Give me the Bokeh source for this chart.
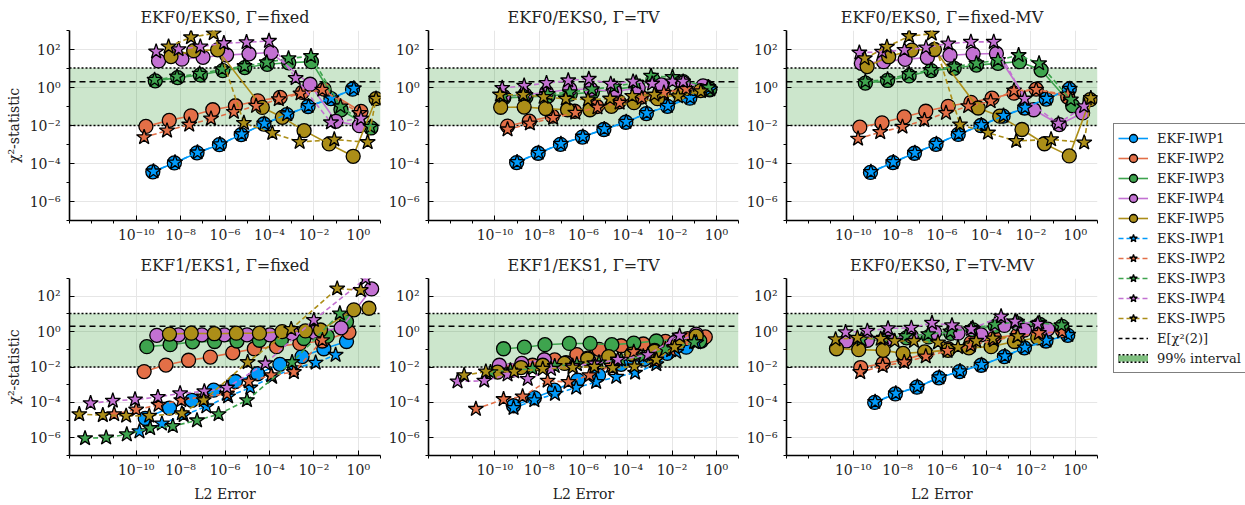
from bokeh.plotting import figure
from bokeh.models import Range1d, FixedTicker, Span, BoxAnnotation, Legend, LegendItem
from bokeh.layouts import row, column
from bokeh.embed import file_html
from bokeh.resources import INLINE

# ---------------- data (log10 of L2 error "LX", log10 of chi2-statistic "LY") -------------
COLORS = ["#009AFA", "#E36F47", "#3EA44E", "#C371D2", "#AC8E18"]
EKF_LABELS = ["EKF-IWP1", "EKF-IWP2", "EKF-IWP3", "EKF-IWP4", "EKF-IWP5"]
EKS_LABELS = ["EKS-IWP1", "EKS-IWP2", "EKS-IWP3", "EKS-IWP4", "EKS-IWP5"]
TITLES = ["EKF0/EKS0, Γ=fixed", "EKF0/EKS0, Γ=TV", "EKF0/EKS0, Γ=fixed-MV",
          "EKF1/EKS1, Γ=fixed", "EKF1/EKS1, Γ=TV", "EKF0/EKS0, Γ=TV-MV"]
CHI2_MEAN = 2.0
CHI2_LO = 0.01
CHI2_HI = 10.6
X_MAJOR = [-10, -8, -6, -4, -2, 0]
X_MINOR = [-13, -12, -11, -9, -7, -5, -3, -1, 1]
Y_MAJOR = [-6, -4, -2, 0, 2]
Y_MINOR = [-7, -5, -3, -1, 1, 3]

# Panel A: EKF0/EKS0, fixed
A_EKF1_LX = [-9.25, -8.28, -7.26, -6.25, -5.27, -4.25, -3.22, -2.26, -1.23, -0.26]
A_EKF1_LY = [-4.44, -3.97, -3.44, -3.01, -2.48, -1.92, -1.43, -1.00, -0.59, -0.09]
A_EKS1_LX = [-9.22, -8.25, -7.24, -6.23, -5.25, -4.23, -3.20, -2.24, -1.21, -0.20]
A_EKS1_LY = [-4.42, -3.95, -3.42, -2.99, -2.46, -1.90, -1.41, -0.98, -0.57, -0.05]
A_EKF2_LX = [-9.56, -8.51, -7.53, -6.55, -5.53, -4.52, -3.52, -2.52, -1.54, 0.12]
A_EKF2_LY = [-2.05, -1.73, -1.49, -1.17, -0.96, -0.70, -0.52, -0.26, -0.09, -1.26]
A_EKS2_LX = [-9.64, -8.61, -7.61, -6.63, -5.60, -4.60, -3.58, -2.60, -1.62, 0.05]
A_EKS2_LY = [-2.62, -2.27, -1.96, -1.64, -1.29, -0.97, -0.62, -0.32, -0.12, -1.35]
A_EKF3_LX = [-9.14, -8.13, -7.11, -6.10, -5.11, -4.10, -3.13, -2.11, -0.78, 0.57]
A_EKF3_LY = [0.35, 0.52, 0.66, 0.89, 1.05, 1.22, 1.30, 1.36, -1.17, -2.13]
A_EKS3_LX = [-9.17, -8.16, -7.14, -6.13, -5.12, -4.12, -3.14, -2.13, -0.80, 0.55]
A_EKS3_LY = [0.40, 0.57, 0.72, 0.96, 1.12, 1.32, 1.53, 1.65, -1.00, -2.07]
A_EKF4_LX = [-8.99, -7.94, -6.99, -5.93, -4.92, -3.92, -2.17, -1.01, 0.05]
A_EKF4_LY = [1.40, 1.49, 1.59, 1.71, 1.77, 1.84, 0.17, -1.78, -2.01]
A_EKS4_LX = [-9.10, -8.09, -7.11, -6.05, -5.03, -4.02, -2.82, -1.23, 0.12]
A_EKS4_LY = [1.89, 2.01, 2.15, 2.33, 2.38, 2.45, 0.49, -1.84, -1.64]
A_EKF5_LX = [-8.43, -7.41, -6.33, -4.32, -3.42, -2.44, -1.31, -0.23, 0.80]
A_EKF5_LY = [1.63, 1.94, 1.98, -1.05, -1.57, -2.27, -2.97, -3.62, -0.59]
A_EKS5_LX = [-8.54, -7.53, -6.51, -5.15, -3.87, -2.64, -1.08, 0.42, 0.80]
A_EKS5_LY = [2.15, 2.64, 2.85, -1.87, -2.40, -2.87, -2.74, -2.88, -0.59]

# Panel B: EKF0/EKS0, TV
B_EKF1_LX = [-9.02, -8.05, -7.04, -6.05, -5.08, -4.09, -3.16, -2.21, -1.20, -0.30]
B_EKF1_LY = [-3.95, -3.46, -2.99, -2.61, -2.21, -1.83, -1.37, -0.99, -0.56, -0.12]
B_EKS1_LX = [-9.00, -8.03, -7.02, -6.03, -5.06, -4.07, -3.14, -2.19, -1.18, -0.28]
B_EKS1_LY = [-3.93, -3.44, -2.97, -2.59, -2.19, -1.81, -1.35, -0.97, -0.54, -0.10]
B_EKF2_LX = [-9.43, -8.45, -7.41, -6.40, -5.40, -4.40, -3.40, -2.40, -1.40, -0.40]
B_EKF2_LY = [-2.03, -1.77, -1.51, -1.25, -1.00, -0.75, -0.50, -0.25, -0.05, 0.00]
B_EKS2_LX = [-9.43, -8.42, -7.37, -6.37, -5.37, -4.37, -3.37, -2.37, -1.37, -0.37]
B_EKS2_LY = [-2.21, -1.90, -1.60, -1.33, -1.05, -0.80, -0.55, -0.28, -0.08, 0.02]
B_EKF3_LX = [-9.60, -8.60, -7.60, -6.60, -5.60, -4.60, -3.60, -2.86, -1.50, -0.30]
B_EKF3_LY = [-0.55, -0.50, -0.45, -0.35, -0.25, -0.10, 0.05, 0.40, 0.31, -0.09]
B_EKS3_LX = [-9.62, -8.62, -7.62, -6.62, -5.62, -4.62, -3.62, -2.95, -1.98, -0.35]
B_EKS3_LY = [-0.45, -0.40, -0.35, -0.25, -0.10, 0.05, 0.25, 0.61, 0.55, 0.00]
B_EKF4_LX = [-9.62, -8.65, -7.67, -6.62, -5.67, -4.59, -3.53, -2.48, -1.50, -0.60]
B_EKF4_LY = [-0.47, -0.38, -0.26, -0.09, -0.09, -0.21, -0.03, 0.14, 0.23, 0.09]
B_EKS4_LX = [-9.67, -8.68, -7.67, -6.69, -5.76, -4.77, -3.76, -2.90, -1.98, -1.50]
B_EKS4_LY = [-0.03, 0.09, 0.23, 0.37, 0.45, 0.19, 0.31, 0.20, 0.31, 0.31]
B_EKF5_LX = [-9.74, -8.68, -7.71, -6.72, -5.71, -4.74, -3.72, -2.66, -1.65, -0.71]
B_EKF5_LY = [-1.04, -1.03, -1.11, -1.17, -1.17, -0.99, -0.80, -0.59, -0.35, -0.16]
B_EKS5_LX = [-9.77, -8.72, -7.80, -6.80, -5.80, -4.80, -3.80, -2.80, -1.73, -0.70]
B_EKS5_LY = [-0.38, -0.38, -0.50, -0.59, -0.64, -0.59, -0.45, -0.38, -0.47, -0.20]

# Panel C: EKF0/EKS0, fixed-MV
C_EKF1_LX = [-9.22, -8.21, -7.24, -6.27, -5.27, -4.25, -3.25, -2.28, -1.31, -0.27]
C_EKF1_LY = [-4.47, -3.95, -3.46, -2.99, -2.47, -2.00, -1.51, -1.08, -0.61, -0.09]
C_EKS1_LX = [-9.20, -8.19, -7.22, -6.25, -5.25, -4.23, -3.23, -2.26, -1.29, -0.25]
C_EKS1_LY = [-4.45, -3.93, -3.44, -2.97, -2.45, -1.98, -1.49, -1.06, -0.59, -0.07]
C_EKF2_LX = [-9.70, -8.70, -7.70, -6.73, -5.72, -4.70, -3.75, -2.76, -1.76, -0.34]
C_EKF2_LY = [-2.09, -1.86, -1.55, -1.25, -0.99, -0.78, -0.56, -0.30, -0.09, -0.50]
C_EKS2_LX = [-9.78, -8.78, -7.78, -6.79, -5.82, -4.82, -3.81, -2.76, -1.76, -0.34]
C_EKS2_LY = [-2.70, -2.35, -2.07, -1.72, -1.34, -0.99, -0.73, -0.16, -0.12, -0.38]
C_EKF3_LX = [-9.45, -8.45, -7.48, -6.49, -5.45, -4.45, -3.48, -2.51, -1.54, -0.12]
C_EKF3_LY = [0.23, 0.37, 0.61, 0.89, 1.01, 1.18, 1.27, 1.36, 0.92, -0.96]
C_EKS3_LX = [-9.45, -8.45, -7.48, -6.49, -5.45, -4.45, -3.48, -2.55, -1.63, -0.20]
C_EKS3_LY = [0.31, 0.43, 0.71, 0.92, 1.10, 1.27, 1.44, 1.70, 1.27, -0.64]
C_EKF4_LX = [-9.63, -8.63, -7.66, -6.66, -5.64, -4.60, -3.55, -1.87, -0.72, 0.33]
C_EKF4_LY = [1.27, 1.36, 1.48, 1.58, 1.70, 1.76, 1.79, -1.17, -1.95, -1.34]
C_EKS4_LX = [-9.72, -8.70, -7.69, -6.72, -5.72, -4.70, -3.67, -2.28, -0.76, 0.40]
C_EKS4_LY = [1.83, 1.88, 1.97, 2.10, 2.31, 2.40, 2.40, -0.59, -1.90, -0.99]
C_EKF5_LX = [-9.37, -8.40, -7.36, -6.34, -4.37, -3.40, -2.40, -1.39, -0.27, 0.67]
C_EKF5_LY = [1.10, 1.62, 1.97, 2.00, -1.08, -1.51, -2.21, -2.96, -3.60, -0.64]
C_EKS5_LX = [-9.48, -8.48, -7.48, -6.46, -5.19, -3.93, -2.66, -1.09, 0.40, 0.70]
C_EKS5_LY = [1.53, 2.14, 2.70, 2.83, -1.95, -2.38, -2.82, -2.73, -2.90, -0.56]

# Panel D: EKF1/EKS1, fixed
D_EKF1_LX = [-9.59, -8.50, -7.49, -6.51, -5.53, -4.53, -3.53, -2.53, -1.55, -0.53]
D_EKF1_LY = [-4.90, -4.32, -3.88, -3.31, -2.82, -2.38, -1.85, -1.41, -0.97, -0.56]
D_EKS1_LX = [-9.85, -8.84, -7.86, -6.84, -5.86, -4.86, -3.88, -2.90, -1.92, -1.02]
D_EKS1_LY = [-5.64, -5.20, -4.72, -4.23, -3.67, -3.17, -2.56, -2.08, -1.76, -1.32]
D_EKF2_LX = [-9.64, -8.66, -7.64, -6.66, -5.65, -4.68, -3.68, -2.63, -1.62, -0.42]
D_EKF2_LY = [-2.26, -1.89, -1.62, -1.44, -1.20, -0.97, -0.85, -0.67, -0.53, -0.04]
D_EKS2_LX = [-10.99, -10.00, -8.99, -7.97, -6.96, -5.91, -4.93, -3.92, -2.90, -1.62]
D_EKS2_LY = [-4.67, -4.41, -4.14, -3.88, -3.67, -3.52, -2.82, -2.47, -2.29, -0.49]
D_EKF3_LX = [-9.52, -8.47, -7.46, -6.47, -5.46, -4.45, -3.46, -2.45, -1.40, -0.53]
D_EKF3_LY = [-0.85, -0.74, -0.58, -0.56, -0.53, -0.49, -0.46, -0.39, -0.26, 0.56]
D_EKS3_LX = [-12.30, -11.35, -10.42, -9.37, -8.35, -7.26, -6.29, -5.01, -2.98, -0.83]
D_EKS3_LY = [-6.03, -5.99, -5.81, -5.46, -5.34, -5.02, -4.67, -3.88, -1.73, 1.02]
D_EKF4_LX = [-9.07, -8.09, -7.04, -6.03, -5.01, -3.98, -2.98, -1.97, -0.77, 0.60]
D_EKF4_LY = [-0.21, -0.18, -0.18, -0.18, -0.18, -0.18, -0.09, -0.04, 0.21, 2.41]
D_EKS4_LX = [-12.05, -11.05, -10.05, -9.02, -8.02, -6.93, -5.91, -4.18, -2.00, 0.33]
D_EKS4_LY = [-4.05, -3.91, -3.84, -3.70, -3.49, -3.38, -3.17, -1.80, 0.65, 3.00]
D_EKF5_LX = [-8.50, -7.52, -6.48, -5.49, -4.45, -3.43, -2.38, -1.70, -0.20, 0.48]
D_EKF5_LY = [-0.14, -0.09, -0.12, -0.09, -0.09, 0.00, 0.04, 0.09, 1.23, 1.32]
D_EKS5_LX = [-12.56, -11.50, -10.45, -9.41, -7.94, -6.96, -4.98, -3.02, -0.95, 0.11]
D_EKS5_LY = [-4.67, -4.72, -4.76, -4.76, -4.62, -3.88, -1.73, 0.14, 2.43, 2.34]

# Panel E: EKF1/EKS1, TV
E_EKF1_LX = [-9.16, -8.22, -7.32, -6.26, -5.32, -4.30, -3.24, -2.22, -1.36, -0.68]
E_EKF1_LY = [-4.19, -3.74, -3.31, -2.74, -2.47, -1.85, -1.55, -1.23, -0.88, -0.53]
E_EKS1_LX = [-9.16, -8.22, -7.29, -6.33, -5.43, -4.52, -3.67, -2.71, -1.81, -0.91]
E_EKS1_LY = [-4.32, -3.88, -3.52, -3.17, -2.85, -2.56, -2.33, -1.85, -1.15, -0.62]
E_EKF2_LX = [-9.30, -8.30, -7.30, -6.30, -5.30, -4.30, -3.30, -2.30, -1.30, -0.50]
E_EKF2_LY = [-2.20, -1.90, -1.60, -1.30, -1.00, -0.80, -0.70, -0.55, -0.40, -0.30]
E_EKS2_LX = [-10.86, -9.61, -8.75, -7.62, -6.68, -5.73, -4.75, -3.73, -2.79, -2.04]
E_EKS2_LY = [-4.37, -3.82, -3.67, -2.78, -2.85, -2.47, -1.94, -1.15, -1.67, -1.06]
E_EKF3_LX = [-9.61, -8.67, -7.74, -6.64, -5.70, -4.72, -3.73, -2.71, -1.73, -0.75]
E_EKF3_LY = [-0.97, -0.88, -0.74, -0.67, -0.67, -0.74, -0.65, -0.53, -0.44, -0.53]
E_EKS3_LX = [-10.20, -9.30, -8.30, -7.30, -6.30, -5.30, -4.30, -3.30, -2.30, -1.00]
E_EKS3_LY = [-2.30, -2.20, -2.10, -1.95, -1.85, -1.75, -1.60, -1.40, -1.00, -0.60]
E_EKF4_LX = [-9.80, -8.79, -7.77, -6.79, -5.81, -4.75, -3.77, -2.79, -1.89, -0.91]
E_EKF4_LY = [-1.90, -1.80, -1.59, -1.76, -1.50, -1.59, -1.32, -1.06, -0.62, -0.14]
E_EKS4_LX = [-11.69, -10.48, -9.43, -8.52, -7.47, -6.49, -5.51, -4.45, -3.09, -1.66]
E_EKS4_LY = [-2.82, -2.78, -2.43, -2.68, -2.11, -1.94, -1.80, -1.59, -1.32, -0.23]
E_EKF5_LX = [-9.88, -8.82, -7.84, -6.86, -5.81, -4.86, -3.82, -2.79, -1.73, -0.91]
E_EKF5_LY = [-2.29, -2.03, -1.90, -1.80, -1.55, -1.41, -1.27, -1.11, -0.70, -0.26]
E_EKS5_LX = [-11.39, -10.41, -9.13, -7.84, -6.49, -5.51, -4.68, -3.70, -2.71, -1.89]
E_EKS5_LY = [-2.47, -2.26, -2.26, -2.11, -2.03, -1.99, -2.06, -1.97, -1.59, -0.88]

# Panel F: EKF0/EKS0, TV-MV
F_EKF1_LX = [-9.03, -8.10, -7.13, -6.14, -5.21, -4.24, -3.19, -2.29, -1.32, -0.34]
F_EKF1_LY = [-4.00, -3.52, -3.14, -2.61, -2.26, -1.90, -1.41, -0.92, -0.53, -0.21]
F_EKS1_LX = [-9.01, -8.08, -7.11, -6.12, -5.19, -4.22, -3.17, -2.27, -1.30, -0.32]
F_EKS1_LY = [-3.98, -3.50, -3.12, -2.59, -2.24, -1.88, -1.39, -0.90, -0.51, -0.19]
F_EKF2_LX = [-9.66, -8.65, -7.68, -6.71, -5.73, -4.69, -3.64, -2.59, -1.62, -0.57]
F_EKF2_LY = [-2.03, -1.80, -1.59, -1.23, -0.97, -0.62, -0.35, -0.18, -0.04, 0.04]
F_EKS2_LX = [-9.68, -8.67, -7.70, -6.73, -5.75, -4.71, -3.66, -2.61, -1.64, -0.59]
F_EKS2_LY = [-2.29, -1.94, -1.73, -1.41, -1.09, -0.79, -0.49, -0.26, -0.09, 0.00]
F_EKF3_LX = [-9.60, -8.60, -7.60, -6.60, -5.60, -4.60, -3.60, -2.60, -1.60, -0.60]
F_EKF3_LY = [-0.55, -0.45, -0.35, -0.30, -0.10, 0.10, 0.30, 0.45, 0.40, 0.30]
F_EKS3_LX = [-9.62, -8.62, -7.62, -6.62, -5.62, -4.62, -3.62, -2.62, -1.62, -0.62]
F_EKS3_LY = [-0.45, -0.35, -0.25, -0.15, 0.00, 0.20, 0.40, 0.55, 0.50, 0.35]
F_EKF4_LX = [-10.30, -9.36, -8.43, -7.38, -6.33, -5.28, -4.24, -3.19, -2.29, -1.24]
F_EKF4_LY = [-0.53, -0.49, -0.39, -0.26, -0.04, -0.09, -0.18, 0.35, 0.09, 0.14]
F_EKS4_LX = [-10.34, -9.36, -8.43, -7.38, -6.45, -5.55, -4.69, -3.34, -2.71, -1.69]
F_EKS4_LY = [-0.04, 0.04, 0.18, 0.21, 0.49, 0.35, 0.14, 0.85, 0.56, 0.44]
F_EKF5_LX = [-10.75, -9.75, -8.65, -7.75, -6.78, -5.73, -4.79, -3.79, -2.74, -1.69]
F_EKF5_LY = [-0.97, -1.02, -1.06, -1.23, -1.15, -1.06, -0.92, -0.85, -0.56, -0.35]
F_EKS5_LX = [-10.79, -9.81, -8.76, -8.13, -7.26, -6.18, -5.28, -4.46, -3.71, -2.59]
F_EKS5_LY = [-0.44, -0.35, -0.41, -0.53, -0.53, -0.62, -0.88, -0.53, -0.39, -0.26]

PANELS = {
    "A": ([A_EKF1_LX, A_EKF2_LX, A_EKF3_LX, A_EKF4_LX, A_EKF5_LX], [A_EKF1_LY, A_EKF2_LY, A_EKF3_LY, A_EKF4_LY, A_EKF5_LY],
          [A_EKS1_LX, A_EKS2_LX, A_EKS3_LX, A_EKS4_LX, A_EKS5_LX], [A_EKS1_LY, A_EKS2_LY, A_EKS3_LY, A_EKS4_LY, A_EKS5_LY]),
    "B": ([B_EKF1_LX, B_EKF2_LX, B_EKF3_LX, B_EKF4_LX, B_EKF5_LX], [B_EKF1_LY, B_EKF2_LY, B_EKF3_LY, B_EKF4_LY, B_EKF5_LY],
          [B_EKS1_LX, B_EKS2_LX, B_EKS3_LX, B_EKS4_LX, B_EKS5_LX], [B_EKS1_LY, B_EKS2_LY, B_EKS3_LY, B_EKS4_LY, B_EKS5_LY]),
    "C": ([C_EKF1_LX, C_EKF2_LX, C_EKF3_LX, C_EKF4_LX, C_EKF5_LX], [C_EKF1_LY, C_EKF2_LY, C_EKF3_LY, C_EKF4_LY, C_EKF5_LY],
          [C_EKS1_LX, C_EKS2_LX, C_EKS3_LX, C_EKS4_LX, C_EKS5_LX], [C_EKS1_LY, C_EKS2_LY, C_EKS3_LY, C_EKS4_LY, C_EKS5_LY]),
    "D": ([D_EKF1_LX, D_EKF2_LX, D_EKF3_LX, D_EKF4_LX, D_EKF5_LX], [D_EKF1_LY, D_EKF2_LY, D_EKF3_LY, D_EKF4_LY, D_EKF5_LY],
          [D_EKS1_LX, D_EKS2_LX, D_EKS3_LX, D_EKS4_LX, D_EKS5_LX], [D_EKS1_LY, D_EKS2_LY, D_EKS3_LY, D_EKS4_LY, D_EKS5_LY]),
    "E": ([E_EKF1_LX, E_EKF2_LX, E_EKF3_LX, E_EKF4_LX, E_EKF5_LX], [E_EKF1_LY, E_EKF2_LY, E_EKF3_LY, E_EKF4_LY, E_EKF5_LY],
          [E_EKS1_LX, E_EKS2_LX, E_EKS3_LX, E_EKS4_LX, E_EKS5_LX], [E_EKS1_LY, E_EKS2_LY, E_EKS3_LY, E_EKS4_LY, E_EKS5_LY]),
    "F": ([F_EKF1_LX, F_EKF2_LX, F_EKF3_LX, F_EKF4_LX, F_EKF5_LX], [F_EKF1_LY, F_EKF2_LY, F_EKF3_LY, F_EKF4_LY, F_EKF5_LY],
          [F_EKS1_LX, F_EKS2_LX, F_EKS3_LX, F_EKS4_LX, F_EKS5_LX], [F_EKS1_LY, F_EKS2_LY, F_EKS3_LY, F_EKS4_LY, F_EKS5_LY]),
}

# ---------------- styling ----------------
FONT = "DejaVu Serif"
SUP = str.maketrans("-0123456789", "⁻⁰¹²³⁴⁵⁶⁷⁸⁹")


def dec(k):
    return float(f"1e{k}")


def sup_label(k):
    return "10" + str(k).translate(SUP)


def make_panel(key, title, bl, br, bt, bb, frame_w, frame_h, ylabel, xlabel):
    p = figure(width=bl + frame_w + br, height=bt + frame_h + bb,
               x_axis_type="log", y_axis_type="log",
               x_range=Range1d(dec(-13), dec(1)), y_range=Range1d(dec(-7), dec(3)),
               output_backend="svg", toolbar_location=None,
               min_border_left=bl, min_border_right=br, min_border_top=bt, min_border_bottom=bb,
               title=title)
    p.outline_line_color = None
    p.background_fill_color = "white"
    p.title.align = "center"
    p.title.text_font = FONT
    p.title.text_font_size = "16px"
    p.title.text_font_style = "normal"
    p.title.text_color = "#222222"
    p.title.standoff = 7

    # axes: labelled decades with inward ticks, the others with short outward ticks
    p.xaxis.ticker = FixedTicker(ticks=[dec(k) for k in X_MAJOR], minor_ticks=[dec(k) for k in X_MINOR])
    p.yaxis.ticker = FixedTicker(ticks=[dec(k) for k in Y_MAJOR], minor_ticks=[dec(k) for k in Y_MINOR])
    p.xaxis.major_label_overrides = {dec(k): sup_label(k) for k in X_MAJOR}
    p.yaxis.major_label_overrides = {dec(k): sup_label(k) for k in Y_MAJOR}
    for ax in (p.xaxis[0], p.yaxis[0]):
        ax.axis_line_width = 1.6
        ax.axis_line_color = "black"
        ax.major_tick_out = 0
        ax.major_tick_in = 5
        ax.major_tick_line_color = "black"
        ax.major_tick_line_width = 1
        ax.minor_tick_out = 3
        ax.minor_tick_in = 0
        ax.minor_tick_line_color = "black"
        ax.minor_tick_line_width = 1
        ax.major_label_text_font = FONT
        ax.major_label_text_font_size = "14px"
        ax.major_label_text_color = "#222222"
        ax.axis_label_text_font = FONT
        ax.axis_label_text_font_size = "14px"
        ax.axis_label_text_font_style = "normal"
        ax.axis_label_text_color = "#222222"
        ax.axis_label_standoff = 5
    p.xaxis.major_label_standoff = 3
    p.yaxis.major_label_standoff = 6
    if ylabel:
        p.yaxis.axis_label = "χ²-statistic"
    if xlabel:
        p.xaxis.axis_label = "L2 Error"

    p.xgrid.ticker = FixedTicker(ticks=[dec(k) for k in X_MAJOR])
    p.ygrid.ticker = FixedTicker(ticks=[dec(k) for k in Y_MAJOR])
    p.grid.grid_line_color = "#e6e6e6"
    p.grid.grid_line_width = 1

    # 99% interval band and reference lines
    p.add_layout(BoxAnnotation(bottom=CHI2_LO, top=CHI2_HI, fill_color="#008000", fill_alpha=0.2,
                               line_color=None, level="underlay"))
    p.add_layout(Span(location=CHI2_LO, dimension="width", line_color="black", line_width=1.5,
                      line_dash="2 2", level="underlay"))
    p.add_layout(Span(location=CHI2_HI, dimension="width", line_color="black", line_width=1.5,
                      line_dash="2 2", level="underlay"))
    p.add_layout(Span(location=CHI2_MEAN, dimension="width", line_color="black", line_width=1.5,
                      line_dash="6 4", level="underlay"))

    fx, fy, sx, sy = PANELS[key]
    for i in range(5):
        xs = [10 ** v for v in fx[i]]
        ys = [10 ** v for v in fy[i]]
        p.line(xs, ys, line_color=COLORS[i], line_width=1.6)
        p.scatter(xs, ys, marker="circle", size=14, fill_color=COLORS[i], line_color="black", line_width=1.3)
    for i in range(5):
        xs = [10 ** v for v in sx[i]]
        ys = [10 ** v for v in sy[i]]
        p.line(xs, ys, line_color=COLORS[i], line_width=1.6, line_dash="5 3")
        p.scatter(xs, ys, marker="star", size=16, fill_color=COLORS[i], line_color="black", line_width=1.3)
    return p


FW = [311, 310, 312]
BL = [69, 43, 42]
BR = [5, 5, 8]
TOP1, BOT1, TOP2, BOT2, FH = 30, 30, 22, 42, 190
p1 = make_panel("A", TITLES[0], BL[0], BR[0], TOP1, BOT1, FW[0], FH, True, False)
p2 = make_panel("B", TITLES[1], BL[1], BR[1], TOP1, BOT1, FW[1], FH, False, False)
p3 = make_panel("C", TITLES[2], BL[2], BR[2], TOP1, BOT1, FW[2], FH, False, False)
p4 = make_panel("D", TITLES[3], BL[0], BR[0], TOP2, BOT2, FW[0], FH, True, True)
p5 = make_panel("E", TITLES[4], BL[1], BR[1], TOP2, BOT2, FW[1], FH, False, True)
p6 = make_panel("F", TITLES[5], BL[2], BR[2], TOP2, BOT2, FW[2], FH, False, True)

# ---------------- legend panel ----------------
LH = TOP1 + FH + BOT1 + TOP2 + FH + BOT2
lg = figure(width=140, height=LH, output_backend="svg", toolbar_location=None,
            x_range=Range1d(0, 1), y_range=Range1d(0, 1), x_axis_location=None, y_axis_location=None,
            min_border_left=0, min_border_right=0, min_border_top=0, min_border_bottom=0)
lg.grid.visible = False
lg.outline_line_color = None
items = []
for i in range(5):
    r1 = lg.line([-5, -4], [-5, -4], line_color=COLORS[i], line_width=1.6)
    r2 = lg.scatter([-5], [-5], marker="circle", size=11, fill_color=COLORS[i], line_color="black", line_width=1.3)
    items.append(LegendItem(label=EKF_LABELS[i], renderers=[r1, r2]))
for i in range(5):
    r1 = lg.line([-5, -4], [-5, -4], line_color=COLORS[i], line_width=1.6, line_dash="5 3")
    r2 = lg.scatter([-5], [-5], marker="star", size=11, fill_color=COLORS[i], line_color="black", line_width=1.3)
    items.append(LegendItem(label=EKS_LABELS[i], renderers=[r1, r2]))
rm = lg.line([-5, -4], [-5, -4], line_color="black", line_width=1.5, line_dash="4 3")
items.append(LegendItem(label="E[χ²(2)]", renderers=[rm]))
# 99% interval swatch: a short green bar with dotted black edges
rq1 = lg.line([-5, -4], [-5, -4], line_color="black", line_width=9, line_dash="2 2")
rq2 = lg.line([-5, -4], [-5, -4], line_color="#80c080", line_width=6)
items.append(LegendItem(label="99% interval", renderers=[rq1, rq2]))
legend = Legend(items=items, location=(8, 131), orientation="vertical",
                border_line_color="black", border_line_width=1.2, background_fill_color="white",
                label_text_font=FONT, label_text_font_size="13px", label_text_color="#222222",
                glyph_width=30, glyph_height=20, label_height=20, spacing=0, padding=4,
                label_standoff=9, margin=0)
lg.add_layout(legend)

layout = row(column(row(p1, p2, p3), row(p4, p5, p6)), lg)
open("out.html", "w").write(file_html(layout, INLINE))
